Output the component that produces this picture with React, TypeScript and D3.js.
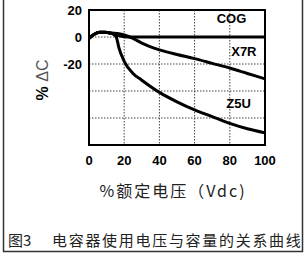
import { useEffect, useRef } from "react";
import * as d3 from "d3";

// % rated voltage vs capacitance change
const COG_X = [0, 3, 6, 9, 13, 17, 22, 30, 100];
const COG_Y = [-1, 2, 3.5, 3.5, 2.5, 1, 0, 0, 0];

const X7R_X = [0, 3, 6, 9, 13, 17, 20, 25, 30, 40, 50, 60, 70, 80, 90, 100];
const X7R_Y = [-1, 2, 3.5, 3.5, 3, 2.5, 1.5, -1, -4.5, -9.5, -13, -16, -19.5, -23, -27, -31];

const Z5U_X = [0, 3, 6, 9, 12, 14, 15.5, 17, 20, 25, 30, 40, 50, 60, 70, 80, 90, 100];
const Z5U_Y = [-1, 2, 3.5, 3.5, 3, 2, 0, -8, -18, -27, -32, -41, -48, -54, -59, -64, -68, -71];

const X_TICKS = [0, 20, 40, 60, 80, 100];
const Y_GRID = [0, -20, -40, -60];
const Y_LABELS = [20, 0, -20];

const SERIES_LABELS = [
  { name: "COG", x: 81, y: 14 },
  { name: "X7R", x: 88, y: -11 },
  { name: "Z5U", x: 85, y: -49 },
];

const W = 305;
const H = 255;

export default function App() {
  const svgRef = useRef<SVGSVGElement>(null);

  useEffect(() => {
    if (!svgRef.current) return;
    const svg = d3.select(svgRef.current);
    svg.selectAll("*").remove();

    const left = 89;
    const right = 265;
    const top = 10;
    const bottom = 145;

    const x = d3.scaleLinear().domain([0, 100]).range([left, right]);
    const y = d3.scaleLinear().domain([-80, 20]).range([bottom, top]);
    const font = "Arial, 'Liberation Sans', sans-serif";

    // outer frame of the figure
    svg
      .append("path")
      .attr("d", `M3.5,0 V251.5 H302.5 V0`)
      .attr("fill", "none")
      .attr("stroke", "#333")
      .attr("stroke-width", 1.5);

    // dotted grid
    svg
      .append("g")
      .selectAll("line")
      .data(X_TICKS.slice(1, -1))
      .join("line")
      .attr("x1", (d) => x(d))
      .attr("x2", (d) => x(d))
      .attr("y1", top)
      .attr("y2", bottom)
      .attr("stroke", "#444")
      .attr("stroke-width", 1)
      .attr("stroke-dasharray", "1.5,1.5");

    svg
      .append("g")
      .selectAll("line")
      .data(Y_GRID)
      .join("line")
      .attr("x1", left)
      .attr("x2", right)
      .attr("y1", (d) => y(d))
      .attr("y2", (d) => y(d))
      .attr("stroke", "#444")
      .attr("stroke-width", 1)
      .attr("stroke-dasharray", "1.5,1.5");

    // plot frame
    svg
      .append("rect")
      .attr("x", left)
      .attr("y", top)
      .attr("width", right - left)
      .attr("height", bottom - top)
      .attr("fill", "none")
      .attr("stroke", "#000")
      .attr("stroke-width", 2);

    // curves
    const line = d3
      .line<[number, number]>()
      .x((d) => x(d[0]))
      .y((d) => y(d[1]))
      .curve(d3.curveMonotoneX);

    const series: [number[], number[]][] = [
      [COG_X, COG_Y],
      [X7R_X, X7R_Y],
      [Z5U_X, Z5U_Y],
    ];
    series.forEach(([xs, ys]) => {
      svg
        .append("path")
        .attr("d", line(xs.map((v, i) => [v, ys[i]] as [number, number])))
        .attr("fill", "none")
        .attr("stroke", "#000")
        .attr("stroke-width", 3);
    });

    // series labels
    svg
      .append("g")
      .selectAll("text")
      .data(SERIES_LABELS)
      .join("text")
      .attr("x", (d) => x(d.x))
      .attr("y", (d) => y(d.y))
      .attr("text-anchor", "middle")
      .attr("dominant-baseline", "central")
      .attr("font-family", font)
      .attr("font-weight", "bold")
      .attr("font-size", 13)
      .text((d) => d.name);

    // y tick labels
    svg
      .append("g")
      .selectAll("text")
      .data(Y_LABELS)
      .join("text")
      .attr("x", left - 7)
      .attr("y", (d) => y(d))
      .attr("text-anchor", "end")
      .attr("dominant-baseline", "central")
      .attr("font-family", font)
      .attr("font-weight", "bold")
      .attr("font-size", 13)
      .text((d) => d);

    // x tick labels
    svg
      .append("g")
      .selectAll("text")
      .data(X_TICKS)
      .join("text")
      .attr("x", (d) => x(d))
      .attr("y", 160)
      .attr("text-anchor", "middle")
      .attr("dominant-baseline", "central")
      .attr("font-family", font)
      .attr("font-weight", "bold")
      .attr("font-size", 13)
      .text((d) => d);

    // y axis title
    const yt = svg
      .append("text")
      .attr("transform", `translate(42,80) rotate(-90)`)
      .attr("text-anchor", "middle")
      .attr("dominant-baseline", "central")
      .attr("font-family", font)
      .attr("font-size", 16);
    yt.append("tspan").attr("font-weight", "bold").text("% ");
    yt.append("tspan").attr("fill", "#555").text("ΔC");

    // x axis title
    svg
      .append("text")
      .attr("x", 173)
      .attr("y", 190)
      .attr("text-anchor", "middle")
      .attr("dominant-baseline", "central")
      .attr("font-family", "'Noto Sans CJK SC', sans-serif")
      .attr("font-size", 16)
      .attr("letter-spacing", 2)
      .attr("fill", "#222")
      .text("%额定电压（Vdc)");

    // caption
    const cap = svg
      .append("text")
      .attr("y", 239)
      .attr("dominant-baseline", "central")
      .attr("font-family", "'Noto Sans CJK SC', sans-serif")
      .attr("font-size", 15)
      .attr("fill", "#222");
    cap.append("tspan").attr("x", 8).text("图3");
    cap
      .append("tspan")
      .attr("x", 52)
      .attr("letter-spacing", 1.7)
      .text("电容器使用电压与容量的关系曲线");
  }, []);

  return (
    <svg
      ref={svgRef}
      width={W}
      height={H}
      style={{ position: "absolute", left: 0, top: 0, background: "#fff" }}
    />
  );
}
